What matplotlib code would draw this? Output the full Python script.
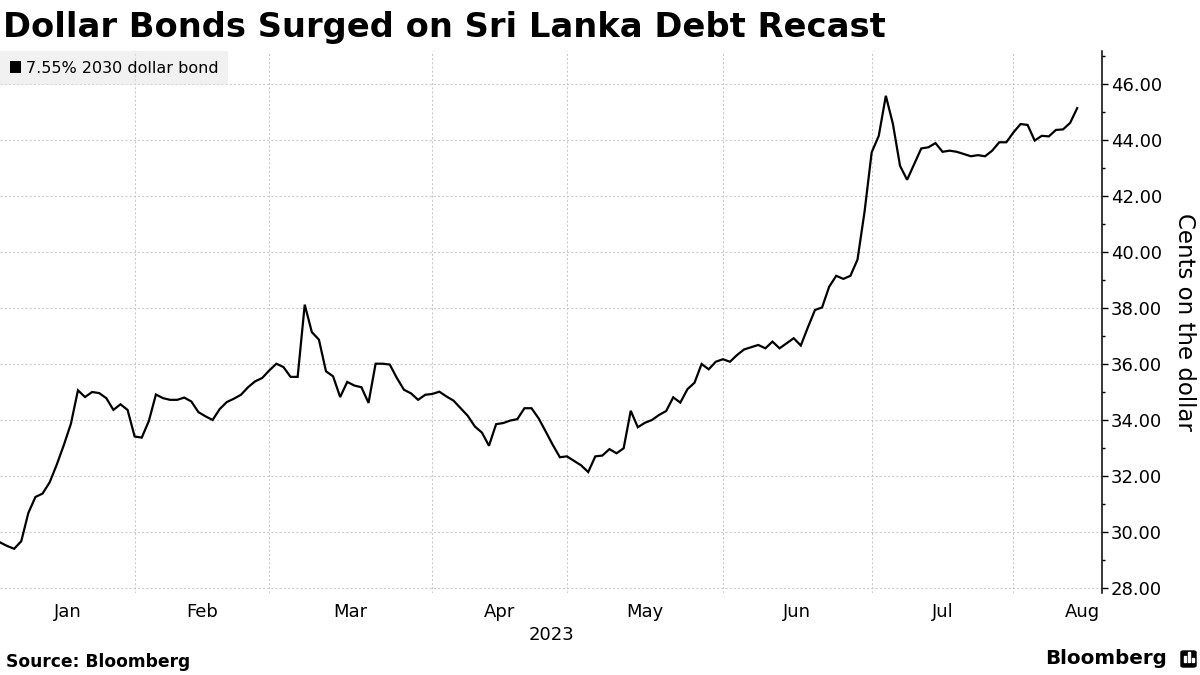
import matplotlib.pyplot as plt
from matplotlib.patches import Patch, FancyBboxPatch, Rectangle
from matplotlib.ticker import FixedLocator, MultipleLocator, FormatStrFormatter

title = "Dollar Bonds Surged on Sri Lanka Debt Recast"
series_name = "7.55% 2030 dollar bond"
y_label = "Cents on the dollar"
year_label = "2023"
source = "Source: Bloomberg"

# one value per trading day, early Jan -> early Aug 2023
price = [
    29.63, 29.50, 29.40, 29.67, 30.68, 31.25, 31.37, 31.77, 32.40, 33.10,
    33.86, 35.06, 34.82, 35.00, 34.96, 34.78, 34.36, 34.56, 34.36, 33.41,
    33.37, 33.96, 34.91, 34.78, 34.72, 34.72, 34.80, 34.66, 34.28, 34.13,
    34.00, 34.39, 34.64, 34.76, 34.90, 35.17, 35.38, 35.50, 35.77, 36.01,
    35.89, 35.54, 35.54, 38.12, 37.14, 36.87, 35.74, 35.56, 34.82, 35.36,
    35.23, 35.17, 34.61, 36.01, 36.01, 35.98, 35.50, 35.08, 34.95, 34.72,
    34.90, 34.93, 35.01, 34.84, 34.69, 34.42, 34.15, 33.77, 33.55, 33.08,
    33.85, 33.89, 33.98, 34.03, 34.42, 34.42, 34.06, 33.59, 33.11, 32.67,
    32.70, 32.54, 32.38, 32.14, 32.70, 32.73, 32.96, 32.81, 32.99, 34.33,
    33.74, 33.90, 34.00, 34.18, 34.32, 34.81, 34.62, 35.10, 35.33, 36.00,
    35.81, 36.08, 36.17, 36.08, 36.32, 36.52, 36.60, 36.68, 36.56, 36.80,
    36.56, 36.74, 36.92, 36.66, 37.31, 37.93, 38.02, 38.76, 39.15, 39.04,
    39.15, 39.73, 41.45, 43.56, 44.15, 45.58, 44.57, 43.08, 42.58, 43.14,
    43.70, 43.74, 43.89, 43.58, 43.62, 43.58, 43.50, 43.42, 43.46, 43.42,
    43.62, 43.92, 43.92, 44.27, 44.57, 44.54, 43.98, 44.15, 44.13, 44.36,
    44.38, 44.61, 45.14,
]

# trading-day index of first session of each month (Feb..Aug)
month_starts = [19, 38, 61, 80, 102, 123, 143]
month_labels = ["Jan", "Feb", "Mar", "Apr", "May", "Jun", "Jul", "Aug"]
month_label_pos = [9.5, 28.5, 49.5, 70.5, 91, 112.5, 133, 152.8]
y_ticks = [28, 30, 32, 34, 36, 38, 40, 42, 44, 46]

W, H = 1200, 675
fig = plt.figure(figsize=(W / 100, H / 100), dpi=100)
ax = fig.add_axes([0, 82 / H, 1102 / W, 542 / H])

ax.plot(range(len(price)), price, color="black", lw=1.6, solid_joinstyle="miter", zorder=3)

ax.set_xlim(0, 155.5)
ax.set_ylim(27.82, 47.18)

for s in ["top", "left", "bottom"]:
    ax.spines[s].set_visible(False)
ax.spines["right"].set_linewidth(1.1)

# y axis on the right
ax.yaxis.tick_right()
ax.yaxis.set_major_locator(FixedLocator(y_ticks))
ax.yaxis.set_minor_locator(MultipleLocator(1))
ax.yaxis.set_major_formatter(FormatStrFormatter("%.2f"))
ax.tick_params(axis="y", which="major", length=4, width=1, pad=2.5, labelsize=13)
ax.tick_params(axis="y", which="minor", length=2.5, width=1)
ax.yaxis.set_label_position("right")
ax.set_ylabel(y_label, rotation=270, va="bottom", fontsize=16.5, labelpad=8)

# x axis: month labels, gridlines at month starts
ax.set_xticks(month_label_pos)
ax.set_xticklabels(month_labels)
ax.xaxis.set_minor_locator(FixedLocator(month_starts))
ax.tick_params(axis="x", which="both", length=0, pad=7, labelsize=13)
ax.set_xlabel(year_label, fontsize=13, labelpad=4)

grid_kw = dict(color="#c8c8c8", linestyle=(0, (2, 2)), linewidth=0.75)
ax.yaxis.grid(True, which="major", **grid_kw)
ax.xaxis.grid(True, which="minor", **grid_kw)
ax.set_axisbelow(True)

leg = ax.legend(
    [Patch(facecolor="black", edgecolor="none")], [series_name],
    loc="upper left", bbox_to_anchor=(0, 1), borderaxespad=0,
    frameon=True, fancybox=False, facecolor="#e4e4e4", edgecolor="none",
    framealpha=0.5, fontsize=11.5, handlelength=0.7, handleheight=0.7,
    handletextpad=0.3, borderpad=0.6,
)

fig.text(3 / W, 1 - 37 / H, title, fontsize=24.3, fontweight="bold", ha="left", va="baseline")
fig.text(6 / W, 1 - 662 / H, source, fontsize=12.3, fontweight="bold", ha="left", va="center")
fig.text(1167 / W, 1 - 658 / H, "Bloomberg", fontsize=14.3, fontweight="bold", ha="right", va="center")

# little logo mark
fig.patches.append(FancyBboxPatch((1181 / W, 1 - 667 / H), 15 / W, 16 / H,
                                  boxstyle="round,pad=0,rounding_size=0.002",
                                  transform=fig.transFigure, color="black"))
for bx, bh in [(1184, 6), (1188, 10), (1192, 4)]:
    fig.patches.append(Rectangle((bx / W, 1 - 662 / H), 2 / W, bh / H,
                                 transform=fig.transFigure, color="white"))

fig.savefig("out.png", dpi=100)
